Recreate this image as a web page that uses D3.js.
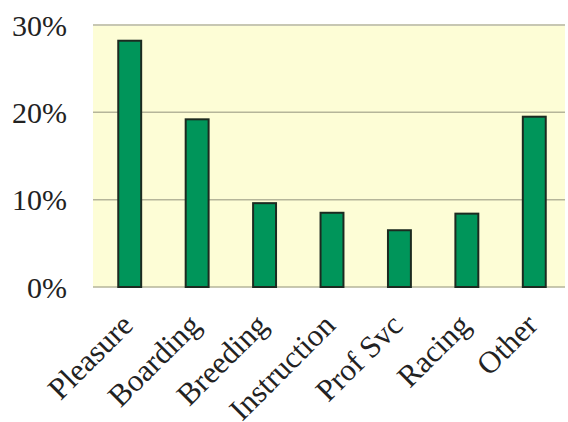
<!DOCTYPE html>
<html><head><meta charset="utf-8">
<script src="https://cdn.jsdelivr.net/npm/d3@7"></script>
<style>body{margin:0;background:#fff}svg{display:block}</style>
</head><body>
<svg id="c" width="568" height="422"></svg>
<script>
const categories = ["Pleasure","Boarding","Breeding","Instruction","Prof Svc","Racing","Other"];
const values = [0.282,0.192,0.096,0.085,0.065,0.084,0.195];
const tickValues = [0,0.1,0.2,0.3];
const tickLabels = ["0%","10%","20%","30%"];

const svg = d3.select("#c");
const x = d3.scaleBand().domain(categories).range([96,568]).paddingInner(0.66).paddingOuter(0.33);
const y = d3.scaleLinear().domain([0,0.3]).range([287,25]);

svg.append("rect").attr("x",93).attr("y",y(0.3)+1).attr("width",472).attr("height",y(0)-y(0.3)-1).attr("fill","#fdfdd6");

svg.append("g").selectAll("line").data(tickValues).join("line")
  .attr("x1",93).attr("x2",565).attr("y1",d=>y(d)).attr("y2",d=>y(d))
  .attr("stroke","#b5b59a").attr("stroke-width",1.5);

svg.append("g").selectAll("text").data(tickValues).join("text")
  .attr("x",67).attr("y",d=>y(d)).attr("dy","0.35em").attr("text-anchor","end")
  .attr("font-family","'Palatino Linotype','Book Antiqua',Palatino,'Liberation Serif',serif").attr("font-size",30).attr("fill","#222")
  .text((d,i)=>tickLabels[i]);

svg.append("g").selectAll("rect").data(values).join("rect")
  .attr("x",(d,i)=>x(categories[i])).attr("width",x.bandwidth())
  .attr("y",d=>y(d)).attr("height",d=>y(0)-y(d))
  .attr("fill","#00955a").attr("stroke","#1c2a20").attr("stroke-width",2);

svg.append("g").selectAll("text").data(categories).join("text")
  .attr("transform",d=>`translate(${x(d)+x.bandwidth()/2+5},${y(0)+40}) rotate(-45)`)
  .attr("text-anchor","end")
  .attr("font-family","'Liberation Serif','Times New Roman',serif").attr("font-size",31).attr("fill","#222")
  .text(d=>d);
</script>
</body></html>
